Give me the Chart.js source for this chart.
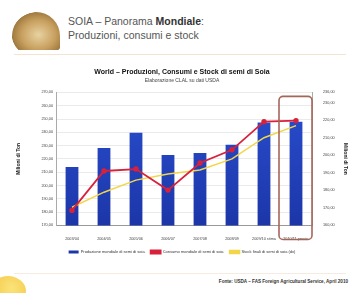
<!DOCTYPE html>
<html><head><meta charset="utf-8">
<script src="https://cdn.jsdelivr.net/npm/chart.js@4.4.1/dist/chart.umd.min.js"></script>
<style>
html,body{margin:0;padding:0;background:#fff;width:358px;height:293px;overflow:hidden;font-family:"Liberation Sans",Arial,sans-serif;}
#logo{position:absolute;left:12px;top:12px;width:48px;height:38px;border-radius:40px 40px 0 0;background:radial-gradient(ellipse at 55% 60%,#e8d2a0 0%,#c8a060 45%,#a07a40 70%,rgba(255,255,255,0) 72%);}
#h1{position:absolute;left:68px;top:14px;font-size:10.5px;color:#555;line-height:14px;}
#rule{position:absolute;left:14px;top:54px;width:332px;height:1px;background:#f3e3cf;}
#corner{position:absolute;left:-10px;top:276px;width:36px;height:30px;border-radius:50%;background:radial-gradient(circle at 60% 40%,#fbe37a,#f2c23a);}
#src{position:absolute;right:10px;top:279px;font-size:4.6px;color:#333;font-weight:bold;}
#bot{position:absolute;left:14px;top:273px;width:332px;height:1px;background:#f6ebe0;}
#wrap{position:absolute;left:14px;top:62px;width:336px;height:202px;}
</style></head><body>
<div id="logo"></div>
<div id="h1">SOIA – Panorama <b style="color:#333">Mondiale</b>:<br>Produzioni, consumi e stock</div>
<div id="rule"></div>
<div id="wrap"><canvas id="c" width="336" height="202"></canvas></div>
<div id="bot"></div>
<div id="corner"></div>
<div id="src">Fonte: USDA – FAS Foreign Agricultural Service, April 2010</div>
<script>
const categories = ["2003/04","2004/05","2005/06","2006/07","2007/08","2008/09","2009/10 stima","2010/11 previs."];
const produzione = [213.9, 228.3, 239.7, 223.0, 224.5, 230.6, 247.3, 248.0];
const consumi = [168.6, 191.1, 192.2, 180.2, 195.7, 203.2, 219.3, 219.9];
const stock = [170.4, 179.0, 185.9, 189.4, 191.7, 198.0, 210.1, 217.0];
const leftTicks = {min:170, max:270, step:10};
const rightTicks = {min:160, max:236, step:10};

const fmt = v => v.toFixed(2).replace('.', ',');

const boxPlugin = {
  id:'box',
  afterDatasetsDraw(chart){
    const x = chart.scales.x, ctx = chart.ctx, a = chart.chartArea;
    const cx = x.getPixelForValue(categories.length-1);
    const l = cx-17, r = cx+16, t = a.top+4, b = a.bottom+14, rad = 4;
    ctx.save();
    ctx.strokeStyle = '#a5665a';
    ctx.lineWidth = 1.6;
    ctx.beginPath();
    ctx.roundRect(l, t, r-l, b-t, rad);
    ctx.stroke();
    ctx.restore();
  }
};

new Chart(document.getElementById('c'), {
  data:{
    labels:categories,
    datasets:[
      {type:'bar', label:'Produzione mondiale di semi di soia', data:produzione, yAxisID:'y',
        backgroundColor:(c)=>{const a=c.chart.chartArea; if(!a) return '#2344c0'; const g=c.chart.ctx.createLinearGradient(0,a.top,0,a.bottom); g.addColorStop(0,'#2a4fd0'); g.addColorStop(1,'#1c36a8'); return g;},
        barPercentage:0.8, categoryPercentage:0.5, order:3},
      {type:'line', label:'Consumo mondiale di semi di soia', data:consumi, yAxisID:'y2', borderColor:'#d8213b', backgroundColor:'#d8213b', borderWidth:1.8, pointRadius:1.8, pointStyle:'circle', tension:0, order:1},
      {type:'line', label:'Stock finali di semi di soia (dx)', data:stock, yAxisID:'y2', borderColor:'#f2d64a', backgroundColor:'#f2d64a', borderWidth:1.5, pointRadius:0, tension:0, order:2}
    ]
  },
  options:{
    responsive:false, animation:false,
    layout:{padding:{left:0,right:0,top:0,bottom:0}},
    plugins:{
      title:{display:true, text:'World – Produzioni, Consumi e Stock di semi di Soia', font:{size:7, weight:'bold', family:'Liberation Sans'}, color:'#111', padding:{top:6,bottom:1}},
      subtitle:{display:true, text:'Elaborazione CLAL su dati USDA', font:{size:5, family:'Liberation Sans'}, color:'#444', padding:{top:0,bottom:9}},
      legend:{position:'bottom', labels:{font:{size:4, family:'Liberation Sans'}, color:'#333', boxWidth:10, boxHeight:3, padding:6, sort:(a,b)=>a.datasetIndex-b.datasetIndex}},
      tooltip:{enabled:false}
    },
    scales:{
      x:{grid:{display:false}, border:{color:'#999'}, ticks:{font:{size:3.8, family:'Liberation Sans'}, color:'#444', maxRotation:0, autoSkip:false, padding:3}},
      y:{position:'left', min:leftTicks.min, max:leftTicks.max, ticks:{stepSize:leftTicks.step, font:{size:3.8, family:'Liberation Sans'}, color:'#444', callback:v=>fmt(v), padding:3},
         grid:{color:'#e4e4e4', lineWidth:0.8, drawTicks:false}, border:{color:'#aaa'},
         title:{display:true, text:'Milioni di Ton', font:{size:5, weight:'bold', family:'Liberation Sans'}, color:'#222', padding:2},
         afterFit(s){s.width=42;}},
      y2:{position:'right', min:rightTicks.min, max:rightTicks.max, ticks:{stepSize:rightTicks.step, font:{size:3.8, family:'Liberation Sans'}, color:'#444', callback:v=>fmt(v), padding:3},
         grid:{display:false}, border:{color:'#aaa'},
         title:{display:true, text:'Milioni di Ton', font:{size:5, weight:'bold', family:'Liberation Sans'}, color:'#222', padding:2},
         afterFit(s){s.width=38;}}
    }
  },
  plugins:[boxPlugin]
});
</script>
</body></html>
